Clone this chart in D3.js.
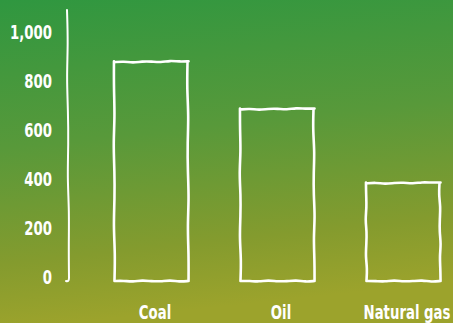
<!DOCTYPE html>
<meta charset="utf-8">
<style>
body { margin: 0; }
text {
  font-family: "DejaVu Sans", sans-serif;
  font-weight: bold;
  fill: #fff;
}
</style>
<body>
<script src="https://d3js.org/d3.v7.min.js"></script>
<script>
// data
var categories = ["Coal", "Oil", "Natural gas"];
var values = [893, 700, 398];
var tickValues = [0, 200, 400, 600, 800, 1000];

var width = 453, height = 323;
var squeeze = 0.7; // the original font is a condensed one

var svg = d3.select("body").append("svg")
    .attr("width", width)
    .attr("height", height)
    .style("display", "block");

// background gradient, green on top fading to olive yellow
var defs = svg.append("defs");
var grad = defs.append("linearGradient")
    .attr("id", "bg")
    .attr("x1", "0").attr("y1", "0")
    .attr("x2", "0.15").attr("y2", "1");
grad.append("stop").attr("offset", "0%").attr("stop-color", "#2f9740");
grad.append("stop").attr("offset", "45%").attr("stop-color", "#58993a");
grad.append("stop").attr("offset", "80%").attr("stop-color", "#849b2e");
grad.append("stop").attr("offset", "100%").attr("stop-color", "#9ca32c");

svg.append("rect")
    .attr("width", width)
    .attr("height", height)
    .attr("fill", "url(#bg)");

var x = d3.scaleBand()
    .domain(categories)
    .range([88, 466])
    .paddingInner(0.42)
    .paddingOuter(0.21);

var y = d3.scaleLinear()
    .domain([0, 1000])
    .range([281, 36]);

// wobbly line between two points, so the marks look hand drawn
var wobble = d3.line().curve(d3.curveBasis);
function sketch(x0, y0, x1, y1, seed) {
  var n = 8, pts = [];
  var dx = x1 - x0, dy = y1 - y0;
  var len = Math.sqrt(dx * dx + dy * dy);
  for (var i = 0; i <= n; i++) {
    var t = i / n;
    var off = (i == 0 || i == n) ? 0 : Math.sin(seed * 3.1 + i * 2.3) * 0.9;
    pts.push([x0 + dx * t - dy / len * off, y0 + dy * t + dx / len * off]);
  }
  return wobble(pts);
}

// y axis: tick labels and a hand drawn vertical line
var yAxis = svg.append("g");
yAxis.selectAll("text")
    .data(tickValues)
    .enter()
    .append("text")
    .attr("transform", function(d) {
      return "translate(52," + (y(d) - 4) + ") scale(" + squeeze + ",1)";
    })
    .attr("dy", "0.36em")
    .attr("text-anchor", "end")
    .style("font-size", "19px")
    .text(d3.format(","));

var axisX = 68;
svg.append("path")
    .attr("d", sketch(axisX - 1, 10, axisX + 1, y(0) - 3, 7) +
               "M" + (axisX + 1) + "," + (y(0) - 3) +
               "Q" + (axisX + 1) + "," + (y(0) + 1) + " " + (axisX - 2) + "," + y(0))
    .attr("fill", "none")
    .attr("stroke", "#fff")
    .attr("stroke-width", 2)
    .attr("stroke-linecap", "round");

// bars as sketched outlines
var bars = svg.append("g");
categories.forEach(function(c, i) {
  var x0 = x(c), x1 = x(c) + x.bandwidth();
  var top = y(values[i]), bot = y(0);
  var d = sketch(x0, top, x1 + 1, top - 1, i * 4 + 1) +
          sketch(x1, top - 1, x1 + 1, bot, i * 4 + 2) +
          sketch(x1 + 1, bot, x0, bot, i * 4 + 3) +
          sketch(x0, bot, x0 - 0.5, top - 1, i * 4 + 4);
  bars.append("path")
      .attr("d", d)
      .attr("fill", "none")
      .attr("stroke", "#fff")
      .attr("stroke-width", 2.6)
      .attr("stroke-linejoin", "round")
      .attr("stroke-linecap", "round");
});

// category labels
svg.append("g").selectAll("text")
    .data(categories)
    .enter()
    .append("text")
    .attr("transform", function(d) {
      return "translate(" + (x(d) + x.bandwidth() / 2 + 4) + ",312) scale(" + squeeze + ",1)";
    })
    .attr("dy", "0.36em")
    .attr("text-anchor", "middle")
    .style("font-size", "19px")
    .text(function(d) { return d; });
</script>
</body>
